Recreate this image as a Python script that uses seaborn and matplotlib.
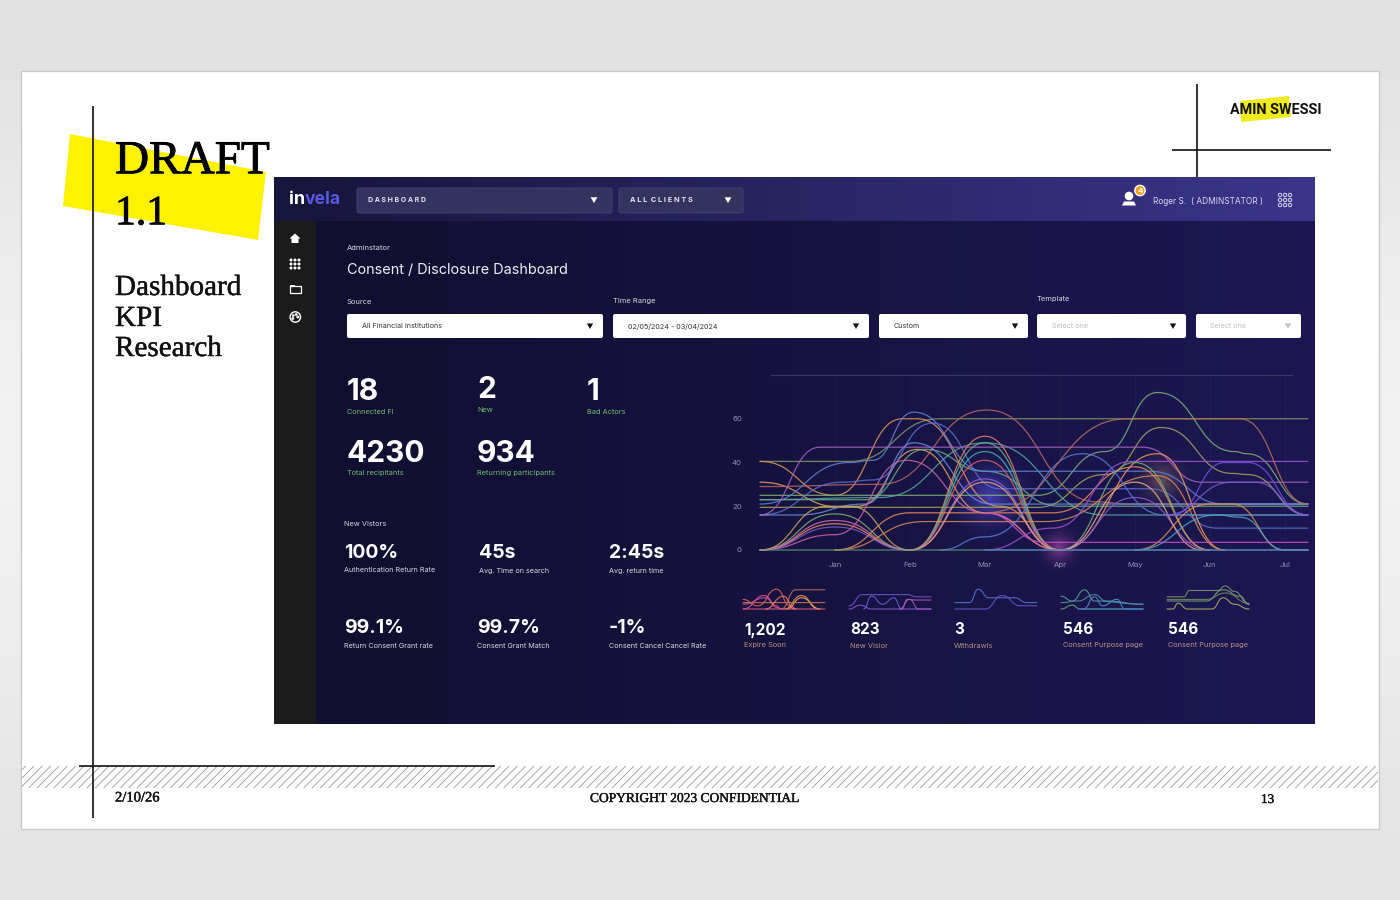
import matplotlib
matplotlib.use("Agg")
import matplotlib.patheffects as pe
import matplotlib.pyplot as plt
import numpy as np
import pandas as pd
import seaborn as sns
from matplotlib.colors import to_rgb
from matplotlib.patches import Circle, FancyBboxPatch, PathPatch, Polygon, Rectangle
from matplotlib.path import Path

# month axis: Jan=1 ... Jul=7, the chart starts one month before Jan
MONTH_LABELS = ["Jan", "Feb", "Mar", "Apr", "May", "Jun", "Jul"]
MONTH_TICKS = [1, 2, 3, 4, 5, 6, 7]
VALUE_TICKS = [0, 20, 40, 60]
END = 7.31

# main chart knots, (month, value)
green_to_60 = [(0, 40.5), (1.2, 40.5), (2.4, 60), (4.9, 60), (END, 60)]
orange_from_40 = [(0, 40.5), (1, 25), (1.9, 60), (2.1, 60), (3.2, 20), (4, 0)]
orange_from_31 = [(0, 31), (1.1, 19.5), (1.3, 20), (2.1, 46), (3, 17), (4, 0)]
red_peak_mar = [(0, 29), (1.6, 30), (3.03, 64), (4.5, 22), (4.9, 21), (END, 21)]
green_peak_may = [(0, 25), (3.7, 25), (4.6, 45), (5.3, 72), (6.33, 45), (6.5, 44), (END, 21)]
olive_peak_may = [(0, 19.5), (3.7, 19.5), (4.6, 34.5), (5.35, 56), (6.3, 35), (6.5, 34.5), (END, 16)]
teal_peak_mar = [(0, 23), (1.6, 24), (3, 49), (4.6, 16), (END, 16)]
green_flat_23 = [(0, 23), (1.4, 23), (2.2, 46), (3, 36), (4, 20), (END, 20)]
blue_peak_feb = [(0, 21), (1.2, 40), (1.5, 41), (2.05, 63), (3, 36), (5.2, 36), (6.2, 21), (END, 21)]
blue_peak_feb2 = [(0, 16), (1.1, 31), (1.5, 32), (2.3, 58), (3.2, 28), (5.2, 28), (6.1, 10), (END, 10)]
blue_peak_feb3 = [(0, 16), (0.5, 16), (1.4, 21), (2.05, 49), (3.1, 21), (4.6, 21), (END, 21)]
purple_flat_47 = [(0, 16), (0.8, 47), (5.1, 47), (5.9, 31), (END, 31)]
green_hump_jan = [(0, 0), (1, 16.5), (2, 0)]
pink_hump_jan = [(0, 0), (1, 13.5), (2, 0)]
orange_hump_jan = [(0, 0), (1, 12), (2, 0)]
purple_hump_jan = [(0, 0), (1, 10.5), (2, 0)]
yellow_hump_jan = [(0, 0), (0.9, 20), (1.2, 20), (2, 0)]
pink_peak_feb = [(0, 0), (1, 7), (1.95, 41), (3, 17), (4, 0)]
orange_hump_mar = [(2, 0), (3, 52), (4, 0)]
green_hump_mar = [(2, 0), (3, 49), (4, 0)]
teal_hump_mar = [(2, 0), (3, 45), (4, 0)]
red_hump_mar = [(2, 0), (3, 41), (4, 0)]
purple_hump_mar = [(2, 0), (3, 32.5), (4, 0)]
peach_hump_mar = [(2, 0), (3, 31), (4, 0)]
orange_hump_may = [(4, 0), (5.3, 44), (6.2, 0)]
green_hump_may = [(4, 0), (5, 40), (6, 0)]
purple_hump_may = [(4, 0), (5, 24), (6, 0)]
peach_hump_may = [(4, 0), (5, 31), (5.9, 0)]
orange_shelf_17 = [(1, 0), (2, 17), (3.9, 17), (5, 38), (6, 0)]
orange_shelf_13 = [(1, 0), (2.2, 13), (3.8, 13), (5.3, 34), (6.2, 0)]
blue_peak_apr = [(2.4, 0), (3, 6), (4.3, 44), (5.4, 16), (END, 16)]
purple_to_40 = [(3, 0), (3.9, 10), (4.95, 40.5), (END, 40.5)]
orange_to_60 = [(3, 17), (4.9, 60), (6.4, 60), (END, 21)]
orange_hump_jun = [(5, 0), (6, 21), (6.3, 21), (7, 0), (END, 0)]
teal_hump_jun = [(5, 0), (6.1, 16), (6.4, 15), (7, 0), (END, 0)]
purple_right_40 = [(5.5, 16), (6.2, 40), (6.5, 40), (END, 16)]
purple_right_31 = [(5.4, 16), (6.3, 31), (6.6, 31), (END, 16)]
pink_flat_3 = [(3, 17), (3.8, 3.5), (END, 3.5)]
base_green = [(0, 0), (END, 0)]
base_blue = [(3, 0), (END, 0)]

main_series = [
    ("green_to_60", green_to_60, "#7f9a62"),
    ("orange_from_40", orange_from_40, "#e59455"),
    ("orange_from_31", orange_from_31, "#e8a05c"),
    ("red_peak_mar", red_peak_mar, "#c0645f"),
    ("green_peak_may", green_peak_may, "#7eb077"),
    ("olive_peak_may", olive_peak_may, "#a7a45a"),
    ("teal_peak_mar", teal_peak_mar, "#55a89a"),
    ("green_flat_23", green_flat_23, "#6fae7a"),
    ("blue_peak_feb", blue_peak_feb, "#5f82d8"),
    ("blue_peak_feb2", blue_peak_feb2, "#5a70d0"),
    ("blue_peak_feb3", blue_peak_feb3, "#6a8ee0"),
    ("purple_flat_47", purple_flat_47, "#a65fc0"),
    ("green_hump_jan", green_hump_jan, "#7fb070"),
    ("pink_hump_jan", pink_hump_jan, "#d868b8"),
    ("orange_hump_jan", orange_hump_jan, "#e09060"),
    ("purple_hump_jan", purple_hump_jan, "#7a5cc8"),
    ("yellow_hump_jan", yellow_hump_jan, "#c8a85a"),
    ("pink_peak_feb", pink_peak_feb, "#d060a8"),
    ("orange_hump_mar", orange_hump_mar, "#e8805c"),
    ("green_hump_mar", green_hump_mar, "#68b088"),
    ("teal_hump_mar", teal_hump_mar, "#4fb0b0"),
    ("red_hump_mar", red_hump_mar, "#e0605c"),
    ("purple_hump_mar", purple_hump_mar, "#8a64d8"),
    ("peach_hump_mar", peach_hump_mar, "#f0a070"),
    ("orange_hump_may", orange_hump_may, "#f09a60"),
    ("green_hump_may", green_hump_may, "#6fb078"),
    ("purple_hump_may", purple_hump_may, "#8a5cd0"),
    ("peach_hump_may", peach_hump_may, "#f0a888"),
    ("orange_shelf_17", orange_shelf_17, "#e88a58"),
    ("orange_shelf_13", orange_shelf_13, "#d88a50"),
    ("blue_peak_apr", blue_peak_apr, "#5a78d8"),
    ("purple_to_40", purple_to_40, "#a050d8"),
    ("orange_to_60", orange_to_60, "#b87058"),
    ("orange_hump_jun", orange_hump_jun, "#e09048"),
    ("teal_hump_jun", teal_hump_jun, "#48a8c0"),
    ("purple_right_40", purple_right_40, "#7050d8"),
    ("purple_right_31", purple_right_31, "#7a58d0"),
    ("pink_flat_3", pink_flat_3, "#c850c8"),
    ("base_green", base_green, "#5f9a80"),
    ("base_blue", base_blue, "#4f78c8"),
]

# sparklines under the main chart
spark_expire = [
    ([(3.4, 0), (4.7, 60), (END, 60)], "#b0685c"),
    ([(0, 30), (1.3, 10), (3, 62), (4.2, 10), (4.8, 0)], "#d8586a"),
    ([(0, 0), (1.9, 42), (3, 10), (3.3, 0)], "#d05098"),
    ([(0, 15), (2, 35), (3, 5), (3.6, 0)], "#c84c90"),
    ([(3.7, 0), (5.2, 42), (6.7, 0)], "#e89058"),
    ([(3.9, 0), (5.2, 35), (6.9, 0)], "#f0a060"),
    ([(0, 20), (END, 20)], "#c07050"),
    ([(0, 0), (END, 0)], "#c85878"),
    ([(2, 0), (3.6, 40), (4.6, 0)], "#f07068"),
]
spark_visitor = [
    ([(0, 10), (1.2, 45), (5.2, 45), (6, 38), (END, 38)], "#6a50c8"),
    ([(0, 0), (1, 12), (2, 0), (END, 0)], "#8050c8"),
    ([(1.3, 0), (2, 40), (3, 15), (4, 35), (4.7, 0)], "#6858d0"),
    ([(4.5, 0), (5.4, 30), (6.2, 0), (END, 0)], "#a050c0"),
    ([(4.7, 0), (5.2, 30), (6, 28), (END, 28)], "#b058b0"),
]
spark_withdraw = [
    ([(0, 20), (1.3, 20), (2.07, 62), (3, 35), (5.3, 35), (6.4, 20), (END, 20)], "#4f70c8"),
    ([(0, 0), (2.7, 0), (4.2, 42), (5.8, 10), (END, 10)], "#6a50c8"),
]
spark_purpose = [
    ([(0, 40), (1, 25), (2.1, 60), (3, 25), (END, 15)], "#4f9a8a"),
    ([(0, 20), (1.5, 25), (3, 45), (4, 25), (END, 15)], "#4f88a0"),
    ([(0, 0), (1, 12), (1.7, 0), (END, 0)], "#5aa070"),
    ([(2, 0), (3, 38), (3.7, 10), (5, 30), (5.7, 0), (END, 0)], "#4a88c0"),
    ([(1.5, 0), (END, 0)], "#3f70c0"),
]
spark_purpose2 = [
    ([(0, 38), (1.5, 38), (2, 58), (4.5, 58), (5.2, 72), (6, 55), (END, 15)], "#7a8a6a"),
    ([(0, 30), (3.5, 30), (5.2, 50), (END, 18)], "#70805f"),
    ([(0, 25), (3.5, 25), (5, 60), (6.5, 40), (END, 15)], "#6a9a70"),
    ([(0, 0), (0.5, 0), (1, 18), (1.8, 0), (4, 0), (5, 35), (6, 15), (END, 0)], "#a8a860"),
]
SPARK_BOXES = [743, 849, 955, 1061, 1167]
spark_groups = [spark_expire, spark_visitor, spark_withdraw, spark_purpose, spark_purpose2]

# KPI text
top_numbers = [("18", 347, 389), ("2", 477, 388), ("1", 587, 389), ("4230", 347, 451), ("934", 477, 451)]
top_labels = [("Connected FI", 347, 412), ("New", 477, 410), ("Bad Actors", 587, 412),
              ("Total recipitants", 347, 473), ("Returning participants", 477, 473)]
mid_numbers = [("100%", 344, 551), ("45s", 479, 551), ("2:45s", 609, 551),
               ("99.1%", 344, 626), ("99.7%", 477, 626), ("-1%", 609, 626)]
mid_labels = [("Authentication Return Rate", 344, 570), ("Avg. Time on search", 479, 570),
              ("Avg. return time", 609, 570), ("Return Consent Grant rate", 344, 645),
              ("Consent Grant Match", 477, 645), ("Consent Cancel Cancel Rate", 609, 645)]
spark_numbers = ["1,202", "823", "3", "546", "546"]
spark_labels = ["Expire Soon", "New Visior", "Withdrawls", "Consent Purpose page", "Consent Purpose page"]
spark_text_x = [744, 850, 954, 1063, 1168]

W, H = 1400, 900
sns.set_theme(style="white")
plt.rcParams["font.family"] = ["Inter", "DejaVu Sans"]
fig = plt.figure(figsize=(W / 100, H / 100), dpi=100)


def px_axes(x0, y0, x1, y1, z):
    return fig.add_axes([x0 / W, 1 - y1 / H, (x1 - x0) / W, (y1 - y0) / H], zorder=z)


def to_bump(ax, lw, alpha):
    # swap the straight seaborn lines for smooth curves through the same knots
    for line in list(ax.get_lines()):
        xs, ys = line.get_data()
        verts = [(xs[0], ys[0])]
        codes = [Path.MOVETO]
        for i in range(1, len(xs)):
            mid = (xs[i - 1] + xs[i]) / 2
            verts += [(mid, ys[i - 1]), (mid, ys[i]), (xs[i], ys[i])]
            codes += [Path.CURVE4] * 3
        ax.add_patch(PathPatch(Path(verts, codes), fc="none", ec=line.get_color(), lw=lw, alpha=alpha,
                               clip_on=False, capstyle="round"))
        line.remove()


def long_table(series):
    rows = []
    for name, knots in series:
        for month, value in knots:
            rows.append((name, month, value))
    return pd.DataFrame(rows, columns=["series", "month", "value"])


def draw_lines(ax, series, colors, lw, alpha):
    table = long_table(series)
    sns.lineplot(data=table, x="month", y="value", hue="series", palette=colors, estimator=None,
                 sort=False, legend=False, ax=ax)
    to_bump(ax, lw, alpha)


def gradient(ax, box, left, right):
    x0, y0, x1, y1 = box
    c = np.linspace(0, 1, 256)[None, :, None]
    img = np.array(to_rgb(left))[None, None, :] * (1 - c) + np.array(to_rgb(right))[None, None, :] * c
    ax.imshow(img, extent=(x0, x1, y1, y0), aspect="auto", zorder=3, interpolation="bilinear")


def glow(ax, cx, cy, r, color, strength):
    yy, xx = np.mgrid[cy - r:cy + r:120j, cx - r:cx + r:120j]
    d = np.hypot(xx - cx, yy - cy) / r
    img = np.zeros((120, 120, 4))
    img[..., :3] = to_rgb(color)
    img[..., 3] = np.clip(1 - d, 0, 1) ** 2 * strength
    ax.imshow(img, extent=(cx - r, cx + r, cy + r, cy - r), aspect="auto", zorder=4, interpolation="bilinear")


def rbox(ax, x0, y0, x1, y1, fc, ec="none", r=2, z=5, lw=0.6):
    ax.add_patch(FancyBboxPatch((x0 + r, y0 + r), x1 - x0 - 2 * r, y1 - y0 - 2 * r,
                                boxstyle=f"round,pad={r},rounding_size={r}", fc=fc, ec=ec, lw=lw, zorder=z))


def arrow(ax, x, y, color="#111111", s=3.6):
    ax.add_patch(Polygon([(x - s, y - s * 0.8), (x + s, y - s * 0.8), (x, y + s * 0.9)], fc=color, ec="none", zorder=7))


# page layer, pixel coordinates
bg = px_axes(0, 0, W, H, 0)
shade = np.array([[0.88], [0.93], [0.95], [0.93], [0.89]])
bg.imshow(shade, extent=(0, W, H, 0), aspect="auto", cmap="gray", vmin=0, vmax=1, interpolation="bicubic", zorder=0)
bg.add_patch(Rectangle((21, 71), 1358, 758, fc="white", ec="#c9c9c9", lw=1, zorder=1))
plt.rcParams["hatch.linewidth"] = 0.6
bg.add_patch(Rectangle((22, 766), 1356, 22, fc="white", ec="#9a9a9a", lw=0, hatch="////", zorder=1))

# yellow tabs and rules
bg.add_patch(Polygon([(70, 134), (266, 172), (258, 240), (63, 206)], fc="#fff200", ec="none", zorder=2))
bg.add_patch(Polygon([(1240, 101), (1289, 96), (1291, 117), (1241, 122)], fc="#eeea1e", ec="none", zorder=2))
for xs, ys in [((93, 93), (106, 818)), ((79, 495), (766, 766)), ((1197, 1197), (84, 177)), ((1172, 1331), (150, 150))]:
    bg.plot(xs, ys, color="#111111", lw=1.2, zorder=3, solid_capstyle="butt")

SERIF = ["Liberation Serif", "DejaVu Serif"]
heavy = [pe.withStroke(linewidth=0.6, foreground="black")]
bg.text(115, 162, "DRAFT", family=SERIF, fontsize=34, color="black", va="center", zorder=8, path_effects=heavy)
bg.text(115, 214, "1.1", family=SERIF, fontsize=30, color="black", va="center", zorder=8, path_effects=heavy)
soft = [pe.withStroke(linewidth=0.3, foreground="#111111")]
for label, y in [("Dashboard", 288), ("KPI", 319), ("Research", 349)]:
    bg.text(115, y, label, family=SERIF, fontsize=21, color="#111111", va="center", path_effects=soft)
bg.text(115, 798, "2/10/26", family=SERIF, fontsize=10.5, color="#111111", va="center", path_effects=soft)
bg.text(590, 799, "COPYRIGHT 2023 CONFIDENTIAL", family=SERIF, fontsize=9.7, color="#111111", va="center", path_effects=soft)
bg.text(1261, 800, "13", family=SERIF, fontsize=9.5, color="#111111", va="center", path_effects=soft)
bg.text(1230, 110, "AMIN SWESSI", family="Roboto", fontsize=10.4, weight="bold", color="#111111", va="center", zorder=5)

# dashboard panels
gradient(bg, (274, 221, 1315, 724), "#100f2e", "#1c1753")
gradient(bg, (274, 177, 1315, 221), "#16153b", "#3a358b")
bg.add_patch(Rectangle((274, 221), 42, 503, fc="#1b1b1c", ec="none", zorder=4))
glow(bg, 990, 497, 55, "#5a50e0", 0.7)
glow(bg, 1059, 548, 28, "#c050c0", 0.65)
glow(bg, 1162, 480, 38, "#b8906a", 0.45)

# header
bg.text(289, 199, "in", fontsize=13, weight="bold", color="white", va="center", zorder=7)
bg.text(305, 199, "vela", fontsize=12.6, weight="bold", color="#5a58dc", va="center", zorder=7)
rbox(bg, 357, 188, 612, 213, "#34325f", "#46447a")
rbox(bg, 619, 188, 743, 213, "#34325f", "#46447a")
bg.text(368, 200.5, "D A S H B O A R D", fontsize=5, weight="bold", color="#e4e4ee", va="center", zorder=7)
bg.text(630, 200.5, "A L L  C L I E N T S", fontsize=5.3, weight="bold", color="#e4e4ee", va="center", zorder=7)
arrow(bg, 594, 200, "white", 3.4)
arrow(bg, 728, 200, "white", 3.4)
bg.text(1153, 201, "Roger S.  ( ADMINSTATOR )", fontsize=6, color="#d8d8ea", va="center", zorder=7)
bg.add_patch(Circle((1129, 196), 3.6, fc="white", zorder=7))
bg.add_patch(Polygon([(1122, 205.5), (1124, 201.5), (1134, 201.5), (1136, 205.5)], fc="white", ec="none", zorder=7))
bg.add_patch(Circle((1140, 190.5), 5.2, fc="#f0a020", zorder=7))
bg.text(1140, 191, "4", fontsize=5.5, weight="bold", color="white", ha="center", va="center", zorder=8)
for gx in (1280, 1285, 1290):
    for gy in (195, 200, 205):
        bg.add_patch(Circle((gx, gy), 1.7, fc="none", ec="#d8d8ea", lw=0.7, zorder=7))

# sidebar icons
bg.add_patch(Polygon([(289.5, 238.5), (295, 233.5), (300.5, 238.5), (298.5, 238.5), (298.5, 243), (291.5, 243), (291.5, 238.5)],
                     fc="white", ec="none", zorder=7))
for gx in (291, 295, 299):
    for gy in (260, 264, 268):
        bg.add_patch(Circle((gx, gy), 0.8, fc="white", zorder=7))
bg.add_patch(Rectangle((290, 286), 11, 7, fc="none", ec="white", lw=0.9, zorder=7))
bg.add_patch(Rectangle((290, 285), 5, 2, fc="white", ec="none", zorder=7))
bg.add_patch(Circle((295.3, 317), 5.2, fc="none", ec="white", lw=1, zorder=7))
for dx, dy in [(-2, -1.5), (1, -2.5), (2.5, 0), (-2.5, 1.5)]:
    bg.add_patch(Circle((295.3 + dx, 317 + dy), 0.7, fc="white", zorder=7))

# title and filters
bg.text(347, 248.5, "Adminstator", fontsize=5.5, color="#d6d6e2", va="center", zorder=7)
bg.text(347, 270, "Consent / Disclosure Dashboard", fontsize=10.4, color="#f0f0f6", va="center", zorder=7)
for label, x, y in [("Source", 347, 301.5), ("Time Range", 613, 301.5), ("Template", 1037, 298.5)]:
    bg.text(x, y, label, fontsize=5.4, color="#d6d6e2", va="center", zorder=7)
filters = [(347, 603, "All Financial Institutions", "#333333", "#111111"),
           (613, 869, "02/05/2024 - 03/04/2024", "#333333", "#111111"),
           (879, 1028, "Custom", "#333333", "#111111"),
           (1037, 1186, "Select one", "#bdbdbd", "#111111"),
           (1196, 1301, "Select one", "#bdbdbd", "#c4c4c4")]
for x0, x1, label, tc, ac in filters:
    rbox(bg, x0, 314, x1, 338, "white")
    bg.text(x0 + 14.5, 326.5, label, fontsize=5.2, color=tc, va="center", zorder=7)
    arrow(bg, x1 - 13, 326, ac, 3.2)

# KPI blocks
for label, x, y in top_numbers:
    bg.text(x, y + 2.5, label, fontsize=21.5, weight="bold", color="white", va="center", zorder=7)
for label, x, y in top_labels:
    bg.text(x, y + 0.5, label, fontsize=5.3, color="#6cc070", va="center", zorder=7)
bg.text(344, 524, "New Vistors", fontsize=5.3, color="#d6d6e2", va="center", zorder=7)
for label, x, y in mid_numbers:
    bg.text(x, y + 2, label, fontsize=14, weight="bold", color="white", va="center", zorder=7)
for label, x, y in mid_labels:
    bg.text(x, y + 0.5, label, fontsize=5.2, color="#d8d8e4", va="center", zorder=7)
for x, num, label in zip(spark_text_x, spark_numbers, spark_labels):
    bg.text(x, 630, num, fontsize=11, weight="bold", color="white", va="center", zorder=7)
    bg.text(x, 645.5, label, fontsize=5.3, color="#b89080", va="center", zorder=7)

bg.set_xlim(0, W)
bg.set_ylim(H, 0)
bg.axis("off")

# main chart
ax = px_axes(760, 375, 1308, 550, 5)
ax.patch.set_alpha(0)
names = [s[0] for s in main_series]
draw_lines(ax, [(s[0], s[1]) for s in main_series], dict(zip(names, [s[2] for s in main_series])), 0.9, 0.85)
ax.set_xlim(0, END)
ax.set_ylim(0, 80)
ax.set_xticks(MONTH_TICKS, MONTH_LABELS)
ax.set_yticks(VALUE_TICKS)
ax.tick_params(axis="x", length=0, pad=8.5, labelsize=5.6, labelcolor="#8f8fb0")
ax.tick_params(axis="y", length=0, pad=13, labelsize=5.6, labelcolor="#8f8fb0")
for label in ax.get_yticklabels():
    label.set_y(label.get_position()[1])
ax.set_xlabel("")
ax.set_ylabel("")
ax.axhline(80, color="#3a3866", lw=0.8, xmin=0.02, xmax=0.97, clip_on=False)
for m in MONTH_TICKS:
    ax.axvline(m, color="#34325f", lw=0.5, ls=":", zorder=0)
sns.despine(ax=ax, left=True, bottom=True, top=True, right=True)

# sparklines
for i, (left, group) in enumerate(zip(SPARK_BOXES, spark_groups)):
    sp = px_axes(left, 585, left + 82, 609, 5)
    sp.patch.set_alpha(0)
    spark_names = [f"s{i}_{j}" for j in range(len(group))]
    draw_lines(sp, [(n, g[0]) for n, g in zip(spark_names, group)],
               dict(zip(spark_names, [g[1] for g in group])), 0.8, 0.95)
    sp.set_xlim(0, END)
    sp.set_ylim(0, 75)
    sp.axis("off")

fig.savefig("out.png", dpi=100)
